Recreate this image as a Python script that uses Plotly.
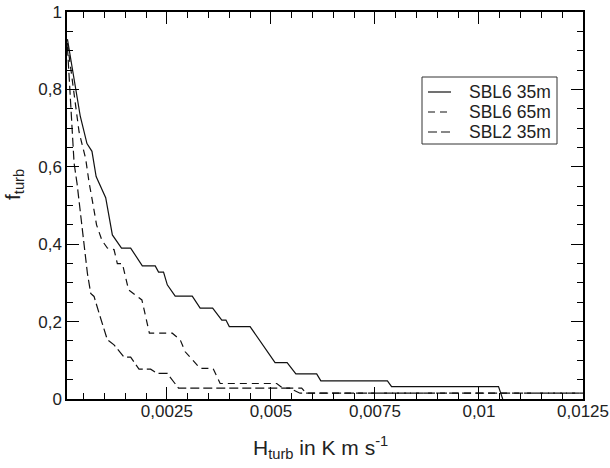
import plotly.graph_objects as go

# SBL6 35m (solid)
x_sbl6_35 = [0.00011, 0.0003, 0.00042, 0.00058, 0.0007, 0.0008, 0.00092, 0.00103, 0.00119,
             0.00141, 0.00163, 0.00191, 0.00222, 0.0023, 0.00242, 0.00251, 0.0027, 0.00311,
             0.0033, 0.0036, 0.00382, 0.00392, 0.004, 0.0045, 0.0051, 0.00539, 0.0056,
             0.0061, 0.0062, 0.0078, 0.0079, 0.01047, 0.01057]
y_sbl6_35 = [0.93, 0.80, 0.73, 0.66, 0.64, 0.575, 0.545, 0.52, 0.424,
             0.39, 0.39, 0.344, 0.344, 0.328, 0.328, 0.295, 0.266, 0.266,
             0.235, 0.235, 0.204, 0.204, 0.187, 0.187, 0.094, 0.094, 0.065,
             0.065, 0.047, 0.047, 0.032, 0.032, 0.0]

# SBL6 65m (dashed)
x_sbl6_65 = [0.00011, 0.00039, 0.00055, 0.00063, 0.00073, 0.00081, 0.00094, 0.00107, 0.00123,
             0.00131, 0.00143, 0.00151, 0.00158, 0.00174, 0.0019, 0.00208, 0.00263, 0.00282,
             0.00294, 0.0033, 0.00361, 0.00378, 0.00514, 0.00529, 0.00574, 0.00585, 0.0125]
y_sbl6_65 = [0.92, 0.69, 0.62, 0.56, 0.50, 0.45, 0.41, 0.39, 0.386,
             0.35, 0.35, 0.31, 0.282, 0.269, 0.256, 0.17, 0.17, 0.153,
             0.122, 0.079, 0.079, 0.04, 0.04, 0.028, 0.028, 0.015, 0.015]

# SBL2 35m (dashed)
x_sbl2_35 = [0.00011, 0.00027, 0.00034, 0.00043, 0.00051, 0.00059, 0.00067, 0.00075, 0.00087,
             0.00107, 0.00123, 0.00147, 0.00163, 0.00183, 0.00211, 0.00227, 0.00251, 0.00278,
             0.00545, 0.0057, 0.0125]
y_sbl2_35 = [0.91, 0.61, 0.558, 0.472, 0.41, 0.325, 0.273, 0.265, 0.222,
             0.153, 0.14, 0.108, 0.108, 0.077, 0.077, 0.066, 0.066, 0.028,
             0.028, 0.015, 0.015]

series_names = ["SBL6 35m", "SBL6 65m", "SBL2 35m"]
series_dash = ["solid", "7px,5px", "9px,4px"]

x_ticks = [0.0025, 0.005, 0.0075, 0.01, 0.0125]
x_labels = ["0,0025", "0,005", "0,0075", "0,01", "0,0125"]
y_ticks = [0, 0.2, 0.4, 0.6, 0.8, 1]
y_labels = ["0", "0,2", "0,4", "0,6", "0,8", "1"]

x_title = "H<sub>turb</sub> in K m s<sup>-1</sup>"
y_title = "f<sub>turb</sub>"

FONT = "Liberation Sans, Arial, Helvetica, sans-serif"
W, H = 610, 468
L, R, T, B = 67, 27, 12, 69
PW, PH = W - L - R, H - T - B


def px_x(px):
    return (px - L) / PW


def px_y(py):
    return (H - B - py) / PH


fig = go.Figure()
series = [(x_sbl6_35, y_sbl6_35), (x_sbl6_65, y_sbl6_65), (x_sbl2_35, y_sbl2_35)]
for (xs, ys), name, dash in zip(series, series_names, series_dash):
    fig.add_trace(go.Scatter(x=xs, y=ys, mode="lines", name=name, showlegend=False,
                             line=dict(color="#111", width=1.2, dash=dash)))

axis_common = dict(showgrid=False, zeroline=False, showline=True, linecolor="black",
                   linewidth=1.5, mirror="ticks", ticks="inside", ticklen=12,
                   tickwidth=1.2, tickcolor="black", automargin=False,
                   tickfont=dict(family=FONT, size=17, color="#222"))

fig.update_xaxes(range=[0.0001, 0.0125], tickmode="array", tickvals=x_ticks, ticktext=x_labels,
                 minor=dict(ticks="inside", ticklen=6, dtick=0.0005, tick0=0, tickcolor="black",
                            tickwidth=1.2, showgrid=False),
                 ticklabelstandoff=-4,
                 **axis_common)
fig.update_yaxes(range=[0, 1], tickmode="array", tickvals=y_ticks, ticktext=y_labels,
                 minor=dict(ticks="inside", ticklen=6, dtick=0.05, tick0=0, tickcolor="black",
                            tickwidth=1.2, showgrid=False),
                 **axis_common)

fig.add_annotation(text=x_title, xref="paper", yref="paper",
                   x=px_x(320), y=px_y(447),
                   xanchor="center", yanchor="middle", showarrow=False,
                   font=dict(family=FONT, size=21, color="#222"))
fig.add_annotation(text=y_title, xref="paper", yref="paper",
                   x=px_x(14), y=px_y(185),
                   xanchor="center", yanchor="middle", showarrow=False, textangle=-90,
                   font=dict(family=FONT, size=21, color="#222"))

# legend (drawn as layout decoration)
leg_x0, leg_x1, leg_y0, leg_y1 = 422, 557, 77, 144
fig.add_shape(type="rect", xref="paper", yref="paper",
              x0=px_x(leg_x0), x1=px_x(leg_x1), y0=px_y(leg_y1), y1=px_y(leg_y0),
              line=dict(color="#333", width=1), fillcolor="white", layer="above")
for i, (name, dash) in enumerate(zip(series_names, series_dash)):
    row_y = 92 + 20 * i
    fig.add_shape(type="line", xref="paper", yref="paper",
                  x0=px_x(428), x1=px_x(451), y0=px_y(row_y), y1=px_y(row_y),
                  line=dict(color="#111", width=1.2, dash=dash), layer="above")
    fig.add_annotation(text=name, xref="paper", yref="paper",
                       x=px_x(467), y=px_y(row_y), xanchor="left", yanchor="middle",
                       showarrow=False, font=dict(family=FONT, size=17.5, color="#222"))

fig.update_layout(
    width=W, height=H,
    margin=dict(l=L, r=R, t=T, b=B, autoexpand=False),
    plot_bgcolor="white", paper_bgcolor="white",
    showlegend=False,
)

fig.write_html("out.html")
